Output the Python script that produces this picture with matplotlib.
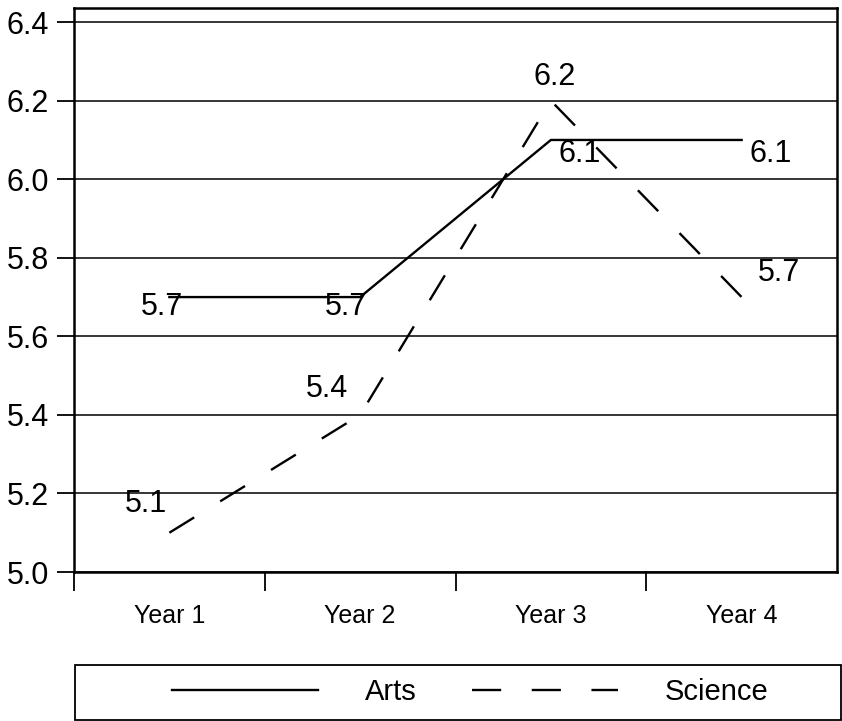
import matplotlib
matplotlib.use("Agg")
import matplotlib.pyplot as plt
from matplotlib.patches import Rectangle

plt.rcParams["font.family"] = ["Liberation Sans", "DejaVu Sans"]
plt.rcParams["lines.scale_dashes"] = False

years = ["Year 1", "Year 2", "Year 3", "Year 4"]
arts = [5.7, 5.7, 6.1, 6.1]
science = [5.1, 5.4, 6.2, 5.7]
yticks = [5.0, 5.2, 5.4, 5.6, 5.8, 6.0, 6.2, 6.4]

# label offsets (points) from each point
arts_offsets = [(-5, -7), (-10, -7), (21, -10), (21, -10)]
science_offsets = [(-17, 21), (-24, 19), (3, 17), (27, 17)]

fig = plt.figure(figsize=(8.42, 7.21), dpi=100)
ax = fig.add_axes([74 / 842, 1 - 572 / 721, (837 - 74) / 842, (572 - 8) / 721])

x = list(range(len(years)))
ax.plot(x, arts, color="black", lw=1.7, label="Arts", zorder=3)
ax.plot(x, science, color="black", lw=1.7, dashes=(21, 22), label="Science", zorder=3)

for xi, v, (dx, dy) in zip(x, arts, arts_offsets):
    ax.annotate(f"{v:.1f}", (xi, v), xytext=(dx, dy), textcoords="offset points",
                ha="center", va="center", fontsize=22)
for xi, v, (dx, dy) in zip(x, science, science_offsets):
    ax.annotate(f"{v:.1f}", (xi, v), xytext=(dx, dy), textcoords="offset points",
                ha="center", va="center", fontsize=22)

ax.set_xlim(-0.5, 3.5)
ax.set_ylim(5.0, 6.436)
ax.set_yticks(yticks)
ax.set_yticklabels([f"{t:.1f}" for t in yticks], fontsize=22)
ax.set_xticks(x)
ax.set_xticklabels(years, fontsize=18)
ax.set_xticks([-0.5, 0.5, 1.5, 2.5], minor=True)
ax.tick_params(axis="x", which="major", length=0, pad=23)
ax.tick_params(axis="x", which="minor", length=14, width=1.3, direction="out")
ax.tick_params(axis="y", length=12, width=1.3, pad=6)
ax.grid(axis="y", color="black", lw=1.1)
for s in ax.spines.values():
    s.set_linewidth(1.8)

fig.add_artist(Rectangle((75 / 842, 1 / 721), (841 - 75) / 842, 55 / 721,
                         transform=fig.transFigure, fill=False, ec="black", lw=1.3))
fig.legend(loc="center", bbox_to_anchor=(470 / 842, 1 - 692 / 721), ncol=2,
           frameon=False, fontsize=21, handlelength=5.0, handletextpad=1.6,
           columnspacing=1.9)

fig.savefig("out.png", dpi=100)
